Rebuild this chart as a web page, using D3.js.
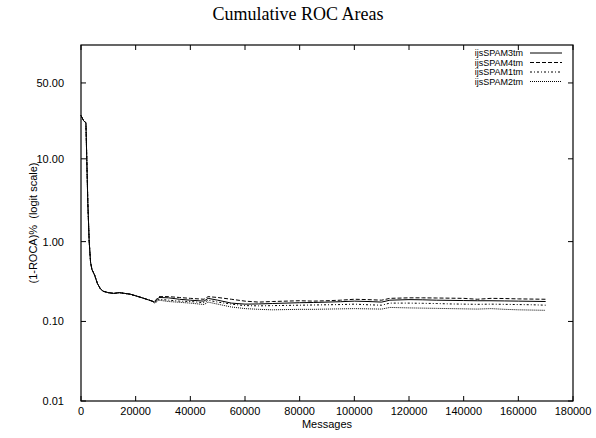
<!DOCTYPE html>
<html><head><meta charset="utf-8">
<script src="https://cdn.jsdelivr.net/npm/d3@7"></script>
<style>body{margin:0;background:#fff}svg{display:block}text{font-family:"Liberation Sans",Arial,sans-serif}</style>
</head><body><svg id="c" width="596" height="438"></svg>
<script>
const messages = [0,1000,1800,2500,3000,3500,4000,5000,6000,7000,8000,10000,12000,14000,16000,18000,20000,22000,24000,26000,
  27000,28500,32000,36000,40000,45000,46500,50000,55000,60000,65000,70000,75000,80000,85000,90000,95000,100000,105000,110000,
  113000,120000,125000,130000,135000,140000,145000,150000,155000,160000,165000,170000];
const early = [28,25,24,3.0,1.0,0.55,0.45,0.38,0.30,0.26,0.24,0.23,0.225,0.23,0.225,0.22,0.21,0.20,0.19,0.18];
const spam3 = early.concat([0.175,0.200,0.198,0.190,0.185,0.180,0.195,0.185,0.170,0.165,0.166,0.168,0.170,0.172,0.173,0.175,0.177,0.180,0.178,0.175,
  0.185,0.188,0.187,0.185,0.184,0.183,0.182,0.182,0.181,0.180,0.179,0.178]);
const spam4 = early.concat([0.180,0.205,0.205,0.200,0.195,0.190,0.205,0.200,0.190,0.180,0.175,0.178,0.180,0.182,0.180,0.182,0.185,0.190,0.188,0.185,
  0.195,0.198,0.198,0.197,0.196,0.195,0.190,0.195,0.194,0.192,0.191,0.190]);
const spam1 = early.concat([0.172,0.190,0.185,0.180,0.178,0.172,0.185,0.175,0.165,0.158,0.157,0.158,0.159,0.160,0.161,0.162,0.163,0.165,0.162,0.160,
  0.170,0.170,0.169,0.168,0.166,0.165,0.164,0.165,0.164,0.163,0.162,0.160]);
const spam2 = early.concat([0.170,0.185,0.178,0.174,0.170,0.163,0.175,0.165,0.152,0.145,0.142,0.140,0.141,0.142,0.142,0.143,0.144,0.145,0.144,0.143,
  0.150,0.148,0.147,0.146,0.145,0.144,0.143,0.145,0.142,0.140,0.139,0.138]);
const seriesNames = ["ijsSPAM3tm","ijsSPAM4tm","ijsSPAM1tm","ijsSPAM2tm"];
const seriesValues = [spam3, spam4, spam1, spam2];
const dashes = [null, "4,2", "2,2,1,2", "1,1"];
const xTicks = [0,20000,40000,60000,80000,100000,120000,140000,160000,180000];
const yTicks = [0.01,0.1,1,10,50];
const yTickLabels = ["0.01","0.10","1.00","10.00","50.00"];

const L=81, R=573, T=45, B=401;
const svg = d3.select("#c");
const logit = p => Math.log(p/(1-p));
const x = d3.scaleLinear().domain([0,180000]).range([L,R]);
const yl = d3.scaleLinear().domain([logit(0.0001), logit(0.75)]).range([B,T]);
const y = v => yl(logit(v/100));

svg.append("rect").attr("x",L).attr("y",T).attr("width",R-L).attr("height",B-T)
  .attr("fill","none").attr("stroke","#000").attr("stroke-width",1.2);

const tk = 5;
const g = svg.append("g").attr("stroke","#000").attr("stroke-width",1);
xTicks.forEach(t=>{
  g.append("line").attr("x1",x(t)).attr("x2",x(t)).attr("y1",B).attr("y2",B-tk);
  g.append("line").attr("x1",x(t)).attr("x2",x(t)).attr("y1",T).attr("y2",T+tk);
  svg.append("text").attr("x",x(t)).attr("y",B+13.5).attr("text-anchor","middle")
    .attr("font-size",11).text(t);
});
yTicks.forEach((t,i)=>{
  g.append("line").attr("x1",L).attr("x2",L+tk).attr("y1",y(t)).attr("y2",y(t));
  g.append("line").attr("x1",R).attr("x2",R-tk).attr("y1",y(t)).attr("y2",y(t));
  svg.append("text").attr("x",L-17).attr("y",y(t)+4).attr("text-anchor","end")
    .attr("font-size",11).text(yTickLabels[i]);
});

const line = d3.line().x((d,i)=>x(messages[i])).y(d=>y(d));
seriesValues.forEach((vals,k)=>{
  svg.append("path").datum(vals).attr("d",line).attr("fill","none")
    .attr("stroke","#000").attr("stroke-width",1)
    .attr("stroke-dasharray",dashes[k]);
});

seriesNames.forEach((n,k)=>{
  const yy = 53 + k*9.5;
  svg.append("text").attr("x",523).attr("y",yy+3.3).attr("text-anchor","end")
    .attr("font-size",9).text(n);
  svg.append("line").attr("x1",530).attr("x2",562).attr("y1",yy).attr("y2",yy)
    .attr("stroke","#000").attr("stroke-width",1).attr("stroke-dasharray",dashes[k]);
});

svg.append("text").attr("x",298).attr("y",20).attr("text-anchor","middle")
  .style("font-family","'Liberation Serif','DejaVu Serif',serif")
  .attr("font-size",18).text("Cumulative ROC Areas");
svg.append("text").attr("x",327).attr("y",427.5).attr("text-anchor","middle")
  .attr("font-size",11).text("Messages");
svg.append("text").attr("transform","translate(37,223) rotate(-90)").attr("text-anchor","middle")
  .attr("font-size",11).style("white-space","pre").text("(1-ROCA)%  (logit scale)");
</script></body></html>
